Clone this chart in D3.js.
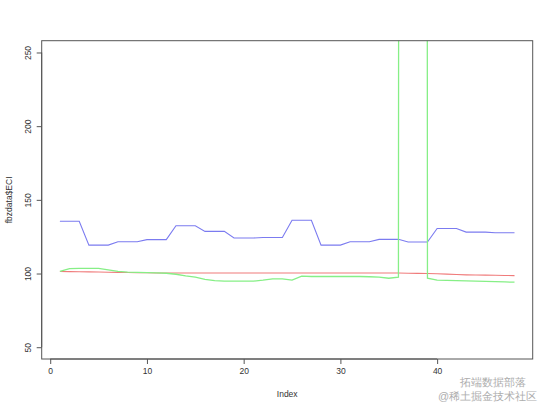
<!DOCTYPE html>
<html>
<head>
<meta charset="utf-8">
<script src="https://cdn.jsdelivr.net/npm/d3@7"></script>
<style>
html,body{margin:0;padding:0;background:#fff;}
svg{display:block;}
text{font-family:"Liberation Sans",Arial,sans-serif;}
</style>
</head>
<body>
<script>
// Data
const index = d3.range(1, 49);
const blueSeries = [135.5,135.5,135.5,119.3,119.3,119.3,121.6,121.6,121.6,123.0,123.0,123.0,
  132.4,132.4,132.4,128.6,128.6,128.6,124.1,124.1,124.1,124.5,124.5,124.5,
  136.2,136.2,136.2,119.3,119.3,119.3,121.6,121.6,121.6,123.2,123.2,123.2,
  121.4,121.4,121.4,130.6,130.6,130.6,128.1,128.1,128.1,127.7,127.7,127.7];
const redSeries = [101.4,101.3,101.2,101.1,101.0,100.9,100.8,100.7,100.6,100.5,100.4,100.4,
  100.4,100.4,100.4,100.4,100.4,100.4,100.4,100.4,100.4,100.4,100.4,100.4,
  100.4,100.4,100.4,100.4,100.4,100.4,100.4,100.4,100.4,100.4,100.4,100.4,
  100.2,100.1,100.0,99.8,99.6,99.3,99.1,99.0,98.9,98.8,98.7,98.6];
const greenSeries = [101.4,103.3,103.5,103.5,103.5,102.5,101.5,101.0,100.8,100.6,100.4,100.2,
  99.5,98.4,97.5,96.0,95.2,94.9,94.8,94.8,94.8,95.5,96.4,96.4,
  95.5,98.3,98.0,98.0,98.0,98.0,98.0,98.0,97.8,97.5,96.8,97.6,
  9999,9999,96.8,95.5,95.3,95.2,95.0,94.9,94.7,94.5,94.3,94.1];
const xTicks = [0,10,20,30,40];
const yTicks = [50,100,150,200,250];
const xLabel = "Index";
const yLabel = "fbzdata$ECI";

const W = 554, H = 410;
const box = {l:41.7, t:40.7, r:532.7, b:359};
const svg = d3.select("body").append("svg").attr("width", W).attr("height", H);

const x = d3.scaleLinear().domain([1 - 47*0.04, 48 + 47*0.04]).range([box.l, box.r]);
const y = d3.scaleLinear().domain([50 - 200*0.04, 250 + 200*0.04]).range([box.b, box.t]);

svg.append("defs").append("clipPath").attr("id","clip")
  .append("rect").attr("x", box.l).attr("y", box.t).attr("width", box.r-box.l).attr("height", box.b-box.t);

const line = d3.line().x((d,i)=>x(index[i])).y(d=>y(d));
const g = svg.append("g").attr("clip-path","url(#clip)");
g.append("path").datum(blueSeries).attr("d", line).attr("fill","none").attr("stroke","#7b7bf0").attr("stroke-width",1.1);
g.append("path").datum(redSeries).attr("d", line).attr("fill","none").attr("stroke","#f07b7b").attr("stroke-width",1.1);
g.append("path").datum(greenSeries).attr("d", line).attr("fill","none").attr("stroke","#86ef86").attr("stroke-width",1.3);

// box
svg.append("rect").attr("x", box.l).attr("y", box.t).attr("width", box.r-box.l).attr("height", box.b-box.t)
  .attr("fill","none").attr("stroke","#555").attr("stroke-width",1);

// x axis
const xa = svg.append("g").attr("transform", `translate(0,${box.b})`)
  .call(d3.axisBottom(x).tickValues(xTicks).tickSize(5).tickPadding(4).tickFormat(d3.format("d")));
xa.select(".domain").attr("d", `M${x(0)},0H${x(40)}`).attr("stroke","#555");
xa.selectAll(".tick line").attr("stroke","#555");
xa.selectAll("text").attr("font-size", 8.5).attr("fill","#333").attr("font-family","Liberation Sans, Arial, sans-serif");

// y axis
const ya = svg.append("g").attr("transform", `translate(${box.l},0)`)
  .call(d3.axisLeft(y).tickValues(yTicks).tickSize(5).tickFormat(d3.format("d")));
ya.select(".domain").attr("d", `M0,${y(50)}V${y(250)}`).attr("stroke","#555");
ya.selectAll(".tick line").attr("stroke","#555");
ya.selectAll(".tick text").attr("x", null).attr("dy", null)
  .attr("transform", "translate(-11,0) rotate(-90)")
  .attr("text-anchor","middle").attr("dominant-baseline","auto")
  .attr("font-size", 8.5).attr("fill","#333").attr("font-family","Liberation Sans, Arial, sans-serif");

// titles
svg.append("text").attr("x", (box.l+box.r)/2).attr("y", 397).attr("text-anchor","middle")
  .attr("font-size", 8.5).attr("fill","#333").text(xLabel);
svg.append("text").attr("transform", `translate(12,${(box.t+box.b)/2}) rotate(-90)`).attr("text-anchor","middle")
  .attr("font-size", 8.5).attr("fill","#333").text(yLabel);

// watermark
svg.append("text").attr("x", 460).attr("y", 386).attr("font-size", 11)
  .attr("font-family","Noto Sans CJK SC").attr("fill","#999").attr("opacity",0.8).text("拓端数据部落");
svg.append("text").attr("x", 438).attr("y", 400).attr("font-size", 11)
  .attr("font-family","Noto Sans CJK SC").attr("fill","#999").attr("opacity",0.8).text("@稀土掘金技术社区");
</script>
</body>
</html>
